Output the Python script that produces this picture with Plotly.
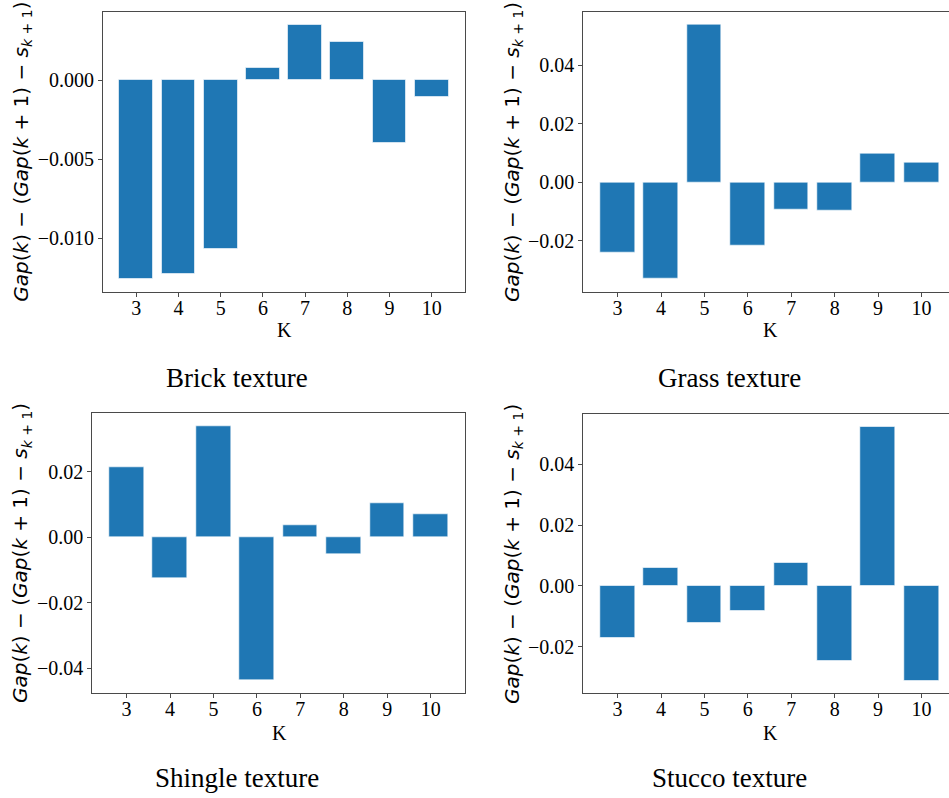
import plotly.graph_objects as go

k_values = [3, 4, 5, 6, 7, 8, 9, 10]
brick = [-0.0126, -0.01225, -0.0107, 0.00078, 0.0035, 0.00243, -0.00396, -0.00105]
grass = [-0.0241, -0.0330, 0.0539, -0.0218, -0.0092, -0.0096, 0.00966, 0.0068]
shingle = [0.0214, -0.0125, 0.0339, -0.0438, 0.00366, -0.0053, 0.0104, 0.0069]
stucco = [-0.0173, 0.0060, -0.01215, -0.0082, 0.00755, -0.0249, 0.0524, -0.0312]
titles = ["Brick texture", "Grass texture", "Shingle texture", "Stucco texture"]
series = [brick, grass, shingle, stucco]

W, H = 949, 798
BAR = "#1f77b4"
SPINE = "#4a4a4a"
SERIF = "Liberation Serif, Times New Roman, serif"

# panel geometry in pixels: (left, right, top, bottom, xmax, mirror_y)
panels = [
    (103.0, 465.0, 12.0, 292.0, 10.79, True),
    (583.3, 949.0, 11.7, 291.7, 10.634, False),
    (92.3, 465.0, 413.3, 693.3, 10.79, True),
    (583.3, 949.0, 414.0, 693.3, 10.634, False),
]
ticks = [
    ([-0.010, -0.005, 0.0], ".3f"),
    ([-0.02, 0.0, 0.02, 0.04], ".2f"),
    ([-0.04, -0.02, 0.0, 0.02], ".2f"),
    ([-0.02, 0.0, 0.02, 0.04], ".2f"),
]
title_x = [21.7, 512.3, 21.7, 512.3]
klabel_x = [284, 770, 279, 770]
klabel_y = [330, 330, 733, 733]
sub_x = [237, 729, 237, 729]
sub_y = [378, 378, 778, 778]

ytitle = ("<i>Gap</i>(<i>k</i>) − (<i>Gap</i>(<i>k</i> + 1) − "
          "<i>s</i><sub><i>k</i> + 1</sub>)")

fig = go.Figure()
annotations = []
for i, (vals, (l, r, t, b, xmax, mirror_y)) in enumerate(zip(series, panels)):
    xa = "x" if i == 0 else f"x{i+1}"
    ya = "y" if i == 0 else f"y{i+1}"
    fig.add_trace(go.Bar(
        x=k_values, y=vals, width=0.8, xaxis=xa, yaxis=ya,
        marker=dict(color=BAR, line=dict(color="rgba(255,255,255,0.6)", width=1)),
        showlegend=False,
    ))
    lo = min(0, min(vals)); hi = max(0, max(vals))
    pad = 0.05 * (hi - lo)
    tv, fmt = ticks[i]
    xkey = "xaxis" if i == 0 else f"xaxis{i+1}"
    ykey = "yaxis" if i == 0 else f"yaxis{i+1}"
    fig.update_layout(**{
        xkey: dict(
            domain=[l / W, r / W], anchor=ya, range=[2.21, xmax],
            tickmode="array", tickvals=k_values, ticktext=[str(k) for k in k_values],
            ticks="outside", ticklen=4, tickwidth=1, tickcolor=SPINE,
            showline=True, linecolor=SPINE, linewidth=1, mirror=True,
            showgrid=False, zeroline=False, ticklabelstandoff=-6,
            tickfont=dict(family=SERIF, size=20, color="black"),
        ),
        ykey: dict(
            domain=[1 - b / H, 1 - t / H], anchor=xa, range=[lo - pad, hi + pad],
            tickmode="array", tickvals=tv, tickformat=fmt,
            ticks="outside", ticklen=4, tickwidth=1, tickcolor=SPINE,
            showline=True, linecolor=SPINE, linewidth=1, mirror=mirror_y,
            showgrid=False, zeroline=False,
            tickfont=dict(family=SERIF, size=20, color="black"),
        ),
    })
    annotations.append(dict(
        text=ytitle, xref="paper", yref="paper",
        x=title_x[i] / W, y=1 - (t + b) / 2 / H, xanchor="center", yanchor="middle",
        textangle=-90, showarrow=False,
        font=dict(family="DejaVu Sans", size=20, color="black"),
    ))
    annotations.append(dict(
        text="K", xref="paper", yref="paper",
        x=klabel_x[i] / W, y=1 - klabel_y[i] / H, xanchor="center", yanchor="middle",
        showarrow=False, font=dict(family=SERIF, size=20, color="black"),
    ))
    annotations.append(dict(
        text=titles[i], xref="paper", yref="paper",
        x=sub_x[i] / W, y=1 - sub_y[i] / H, xanchor="center", yanchor="middle",
        showarrow=False, font=dict(family=SERIF, size=27, color="black"),
    ))

fig.update_layout(
    width=W, height=H, margin=dict(l=0, r=0, t=0, b=0),
    paper_bgcolor="white", plot_bgcolor="white",
    annotations=annotations, bargap=0,
)
fig.write_html(
    "out.html",
    config={"displayModeBar": False},
    post_script="document.body.style.margin='0';document.body.style.overflow='hidden';",
)
